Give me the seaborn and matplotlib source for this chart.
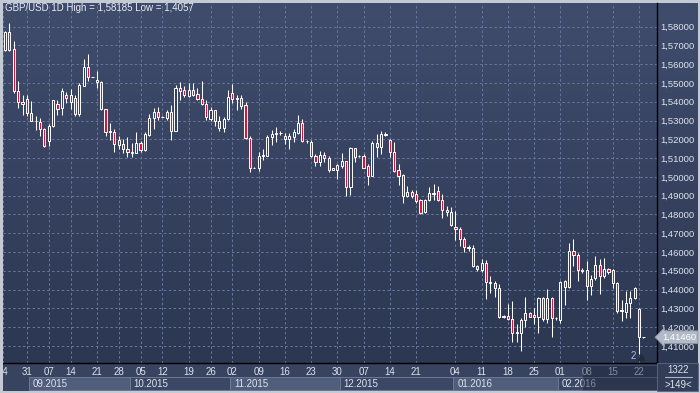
import numpy
import seaborn
import matplotlib
matplotlib.use('Agg')
import matplotlib.pyplot as pyplt
import matplotlib.transforms as mtransforms
from matplotlib.colors import LinearSegmentedColormap
from matplotlib.patches import Rectangle
from matplotlib.lines import Line2D

# GBP/USD daily candles, 24.08.2015 - 23.02.2016
opens = [1.5676, 1.5774, 1.5680, 1.5459, 1.5399, 1.5415, 1.5341, 1.5296, 1.5293, 1.5256,
         1.5189, 1.5270, 1.5390, 1.5367, 1.5436, 1.5436, 1.5420, 1.5337, 1.5485, 1.5584,
         1.5532, 1.5516, 1.5505, 1.5362, 1.5238, 1.5238, 1.5199, 1.5176, 1.5150, 1.5129,
         1.5129, 1.5182, 1.5141, 1.5222, 1.5311, 1.5346, 1.5320, 1.5312, 1.5346, 1.5247,
         1.5473, 1.5461, 1.5432, 1.5464, 1.5443, 1.5415, 1.5390, 1.5309, 1.5355, 1.5300,
         1.5261, 1.5306, 1.5447, 1.5421, 1.5421, 1.5385, 1.5209, 1.5050, 1.5050, 1.5112,
         1.5112, 1.5214, 1.5227, 1.5234, 1.5218, 1.5204, 1.5214, 1.5235, 1.5288, 1.5191,
         1.5186, 1.5112, 1.5077, 1.5119, 1.5098, 1.5038, 1.5038, 1.5059, 1.5082, 1.4944,
         1.5153, 1.5112, 1.5112, 1.5056, 1.5006, 1.5179, 1.5161, 1.5225, 1.5195, 1.5133,
         1.5036, 1.5010, 1.4900, 1.4918, 1.4907, 1.4879, 1.4812, 1.4879, 1.4911, 1.4923,
         1.4879, 1.4825, 1.4813, 1.4735, 1.4724, 1.4671, 1.4626, 1.4621, 1.4527, 1.4502,
         1.4541, 1.4436, 1.4434, 1.4408, 1.4256, 1.4260, 1.4242, 1.4169, 1.4168, 1.4239,
         1.4274, 1.4265, 1.4253, 1.4354, 1.4242, 1.4354, 1.4246, 1.4239, 1.4443, 1.4413,
         1.4603, 1.4585, 1.4500, 1.4502, 1.4420, 1.4459, 1.4532, 1.4470, 1.4511, 1.4505,
         1.4434, 1.4287, 1.4283, 1.4328, 1.4354, 1.4296, 1.4145]
highs = [1.5776, 1.58185, 1.5721, 1.5508, 1.5438, 1.5438, 1.5406, 1.5323, 1.5311, 1.5261,
         1.5284, 1.5411, 1.5411, 1.5473, 1.5450, 1.5468, 1.5438, 1.5500, 1.5627, 1.5655,
         1.5533, 1.5562, 1.5508, 1.5362, 1.5288, 1.5256, 1.5217, 1.5203, 1.5213, 1.5178,
         1.5238, 1.5190, 1.5238, 1.5337, 1.5367, 1.5372, 1.5322, 1.5358, 1.5385, 1.5491,
         1.5505, 1.5482, 1.5500, 1.5500, 1.5473, 1.5508, 1.5411, 1.5372, 1.5358, 1.5323,
         1.5318, 1.5465, 1.5497, 1.5438, 1.5438, 1.5398, 1.5218, 1.5052, 1.5133, 1.5147,
         1.5221, 1.5250, 1.5267, 1.5244, 1.5232, 1.5235, 1.5253, 1.5332, 1.5306, 1.5195,
         1.5197, 1.5121, 1.5138, 1.5130, 1.5112, 1.5048, 1.5068, 1.5126, 1.5086, 1.5160,
         1.5156, 1.5116, 1.5121, 1.5068, 1.5191, 1.5227, 1.5244, 1.5239, 1.5204, 1.5188,
         1.5068, 1.5015, 1.4950, 1.4930, 1.4932, 1.4883, 1.4883, 1.4948, 1.4960, 1.4950,
         1.4911, 1.4843, 1.4840, 1.4816, 1.4731, 1.4680, 1.4639, 1.4639, 1.4532, 1.4562,
         1.4559, 1.4470, 1.4443, 1.4429, 1.4265, 1.4324, 1.4340, 1.4217, 1.4251, 1.4360,
         1.4278, 1.4301, 1.4363, 1.4363, 1.4402, 1.4363, 1.4256, 1.4443, 1.4452, 1.4648,
         1.4669, 1.4594, 1.4514, 1.4550, 1.4479, 1.4580, 1.4564, 1.4568, 1.4516, 1.4511,
         1.4438, 1.4342, 1.4393, 1.4390, 1.4413, 1.4301, 1.4150]
lows = [1.5672, 1.5673, 1.5447, 1.5367, 1.5328, 1.5323, 1.5296, 1.5252, 1.5217, 1.5159,
        1.5167, 1.5266, 1.5332, 1.5332, 1.5394, 1.5362, 1.5323, 1.5323, 1.5482, 1.5508,
        1.5530, 1.5473, 1.5358, 1.5217, 1.5196, 1.5132, 1.5146, 1.5129, 1.5107, 1.5107,
        1.5125, 1.5132, 1.5137, 1.5217, 1.5256, 1.5305, 1.5318, 1.5305, 1.5196, 1.5243,
        1.5411, 1.5425, 1.5425, 1.5432, 1.5411, 1.5385, 1.5305, 1.5296, 1.5273, 1.5243,
        1.5240, 1.5302, 1.5391, 1.5355, 1.5359, 1.5200, 1.5027, 1.5045, 1.5033, 1.5091,
        1.5112, 1.5170, 1.5188, 1.5225, 1.5177, 1.5151, 1.5186, 1.5227, 1.5186, 1.5179,
        1.5108, 1.5056, 1.5056, 1.5080, 1.5027, 1.5036, 1.4988, 1.5045, 1.4897, 1.4904,
        1.5077, 1.5105, 1.5045, 1.4957, 1.5003, 1.5107, 1.5121, 1.5218, 1.5107, 1.5027,
        1.4957, 1.4861, 1.4891, 1.4886, 1.4861, 1.4803, 1.4809, 1.4874, 1.4879, 1.4874,
        1.4781, 1.4790, 1.4736, 1.4662, 1.4633, 1.4598, 1.4603, 1.4520, 1.4500, 1.4496,
        1.4349, 1.4381, 1.4358, 1.4248, 1.4248, 1.4239, 1.4123, 1.4123, 1.4075, 1.4203,
        1.4253, 1.4217, 1.4171, 1.4230, 1.4224, 1.4146, 1.4239, 1.4224, 1.4319, 1.4408,
        1.4527, 1.4448, 1.4488, 1.4345, 1.4372, 1.4452, 1.4377, 1.4461, 1.4484, 1.4408,
        1.4274, 1.4230, 1.4251, 1.4248, 1.4351, 1.4057, 1.4142]
closes = [1.5774, 1.5676, 1.5455, 1.5399, 1.5387, 1.5341, 1.5300, 1.5300, 1.5256, 1.5164,
          1.5270, 1.5408, 1.5362, 1.5455, 1.5418, 1.5397, 1.5337, 1.5491, 1.5584, 1.5531,
          1.5531, 1.5505, 1.5362, 1.5240, 1.5242, 1.5173, 1.5171, 1.5150, 1.5130, 1.5134,
          1.5182, 1.5144, 1.5226, 1.5314, 1.5346, 1.5318, 1.5321, 1.5346, 1.5247, 1.5473,
          1.5455, 1.5436, 1.5464, 1.5438, 1.5415, 1.5387, 1.5318, 1.5355, 1.5296, 1.5261,
          1.5309, 1.5426, 1.5415, 1.5414, 1.5380, 1.5205, 1.5047, 1.5047, 1.5112, 1.5116,
          1.5214, 1.5227, 1.5232, 1.5235, 1.5204, 1.5218, 1.5239, 1.5288, 1.5191, 1.5190,
          1.5112, 1.5077, 1.5119, 1.5098, 1.5038, 1.5045, 1.5063, 1.5082, 1.4944, 1.5153,
          1.5108, 1.5110, 1.5048, 1.5006, 1.5179, 1.5161, 1.5227, 1.5228, 1.5133, 1.5033,
          1.5006, 1.4900, 1.4918, 1.4897, 1.4874, 1.4809, 1.4879, 1.4913, 1.4913, 1.4879,
          1.4822, 1.4813, 1.4742, 1.4722, 1.4669, 1.4626, 1.4623, 1.4527, 1.4509, 1.4541,
          1.4438, 1.4440, 1.4408, 1.4253, 1.4260, 1.4242, 1.4171, 1.4173, 1.4239, 1.4274,
          1.4256, 1.4253, 1.4354, 1.4242, 1.4354, 1.4248, 1.4249, 1.4438, 1.4413, 1.4603,
          1.4584, 1.4502, 1.4504, 1.4420, 1.4456, 1.4532, 1.4470, 1.4509, 1.4496, 1.4434,
          1.4288, 1.4290, 1.4328, 1.4354, 1.4408, 1.4146, 1.4146]

# candle index of each weekly date label (24.08 sits on the clipped left edge)
day_ticks = [-0.4, 5, 10, 15, 21, 26, 31, 36, 42, 47, 52, 58, 64, 70, 76, 82, 88, 94,
             103, 109, 115, 121, 127, 133, 139, 145]
day_labels = ['24', '31', '07', '14', '21', '28', '05', '12', '19', '26', '02', '09', '16',
              '23', '30', '07', '14', '21', '04', '11', '18', '25', '01', '08', '15', '22']
month_starts = [5.5, 28.5, 51.5, 76.5, 102.5, 126.5]
month_labels = ['09.2015', '10.2015', '11.2015', '12.2015', '01.2016', '02.2016']
price_ticks = [1.41, 1.42, 1.43, 1.44, 1.45, 1.46, 1.47, 1.48, 1.49, 1.50,
               1.51, 1.52, 1.53, 1.54, 1.55, 1.56, 1.57, 1.58]
title = 'GBP/USD 1D High = 1,58185 Low = 1,4057'
last_price = 1.4146

W, H = 700, 393
BEAR = '#e3102f'
BULL = '#35415e'
TXT = '#dde3ee'


def px_axes(fig, x0, y0, x1, y1):
    return fig.add_axes([x0 / W, 1 - y1 / H, (x1 - x0) / W, (y1 - y0) / H])


def fmt(v):
    return f'{v:.5f}'.replace('.', ',')


def plot_candles(outfile='out.png'):
    seaborn.set_theme(style='dark', rc={'axes.grid': True})
    pyplt.rcParams['font.family'] = ['Liberation Sans', 'DejaVu Sans']

    fig = pyplt.figure(figsize=(7, 3.93), dpi=100)
    fig.patch.set_facecolor('#c3cad4')

    # navy gradient behind chart + price scale
    bg = px_axes(fig, 3, 3, 698, 363)
    cmap = LinearSegmentedColormap.from_list('bg', ['#3f4c6c', '#36425f', '#2c3751'])
    bg.imshow(numpy.linspace(0, 1, 256)[:, None], aspect='auto', cmap=cmap, extent=[0, 1, 0, 1])
    bg.set_axis_off()

    band = px_axes(fig, 3, 363, 698, 391)
    band.set_facecolor('#37435f')
    band.set_xticks([])
    band.set_yticks([])
    for s in band.spines.values():
        s.set_visible(False)

    ax = px_axes(fig, 3, 3, 657, 363)
    ax.patch.set_alpha(0)

    x = numpy.arange(len(opens))
    o = numpy.array(opens)
    c = numpy.array(closes)
    ax.vlines(x, lows, highs, color='white', linewidth=0.75, zorder=3)
    bottoms = numpy.minimum(o, c)
    heights = numpy.maximum(numpy.abs(c - o), 0.00003)
    colors = [BEAR if cl < op else BULL for op, cl in zip(opens, closes)]
    ax.bar(x, heights, bottom=bottoms, width=0.5, color=colors, edgecolor='white',
           linewidth=0.7, zorder=4)

    ax.set_xlim(-0.46, 149.1)
    ax.set_ylim(1.4009, 1.5926)

    ax.grid(True, color='#6778a0', linestyle=(0, (2.5, 2.5)), linewidth=0.7)
    ax.set_axisbelow(True)

    ax.set_xticks(day_ticks)
    ax.set_xticklabels(day_labels)
    ax.yaxis.tick_right()
    ax.set_yticks(price_ticks)
    ax.set_yticklabels([fmt(v) for v in price_ticks])
    ax.tick_params(axis='x', length=0, pad=3.0, labelsize=7, colors=TXT)
    ax.tick_params(axis='y', length=0, pad=2.2, labelsize=6.8, colors=TXT)

    for side in ['left', 'top']:
        ax.spines[side].set_visible(False)
    for side in ['right', 'bottom']:
        ax.spines[side].set_color('black')
        ax.spines[side].set_linewidth(1.0)

    # month boxes under the day labels
    trans = mtransforms.blended_transform_factory(ax.transData, ax.transAxes)
    ends = month_starts[1:] + [149.1]
    for i, (start, end, lab) in enumerate(zip(month_starts, ends, month_labels)):
        fc = '#505d7b' if i % 2 == 0 else '#3b4765'
        ax.add_patch(Rectangle((start, -0.075), end - start, 0.036, transform=trans,
                               facecolor=fc, edgecolor='#6b7896', linewidth=0.7,
                               clip_on=False, zorder=5))
        ax.text(start + 0.9, -0.057, lab, transform=trans, fontsize=7, color=TXT,
                ha='left', va='center', clip_on=False, zorder=6)

    # scroll thumb over the last days
    ax.add_patch(Rectangle((132.0, -0.075), 17.1, 0.07, transform=trans, facecolor='#1a2236',
                           alpha=0.45, edgecolor='#5a6684', linewidth=0.6, clip_on=False,
                           zorder=7))

    ax.text(143.6, 1.4047, '2', color='#a8c2ea', fontsize=7, ha='center', va='center', zorder=6)
    ax.plot([145.5], [1.4040], marker='^', markersize=4, color='#222a3e', zorder=6)

    # last price tag on the scale
    ptrans = mtransforms.blended_transform_factory(ax.transAxes, ax.transData)
    ax.text(1.0075, last_price, fmt(last_price), transform=ptrans, fontsize=6.8, color='white',
            ha='left', va='center', clip_on=False, zorder=8,
            bbox=dict(boxstyle='larrow,pad=0.2', facecolor='#b3bac7', edgecolor='#8d95a4',
                      linewidth=0.6))

    fig.text(5 / W, 1 - 8 / H, title, fontsize=7, color='#e8ecf4', ha='left', va='center')

    fig.add_artist(Rectangle((657 / W, 2 / H), 41 / W, 28 / H, transform=fig.transFigure,
                             facecolor='#323d58', edgecolor='#5b6785', linewidth=0.6))
    fig.text(678 / W, 1 - 370 / H, '1322', fontsize=7, color=TXT, ha='center', va='center')
    fig.text(678 / W, 1 - 385.5 / H, '>149<', fontsize=7, color=TXT, ha='center', va='center')
    fig.add_artist(Line2D([665 / W, 692 / W], [1 - 377 / H, 1 - 377 / H], color='#aab4c8',
                          linewidth=0.8, transform=fig.transFigure))

    # light frame on the left edge hides the clipped first label
    fig.add_artist(Rectangle((0, 0), 3 / W, 1, transform=fig.transFigure,
                             facecolor='#c3cad4', edgecolor='none', zorder=20))

    fig.savefig(outfile, dpi=100, facecolor=fig.get_facecolor())


plot_candles()
